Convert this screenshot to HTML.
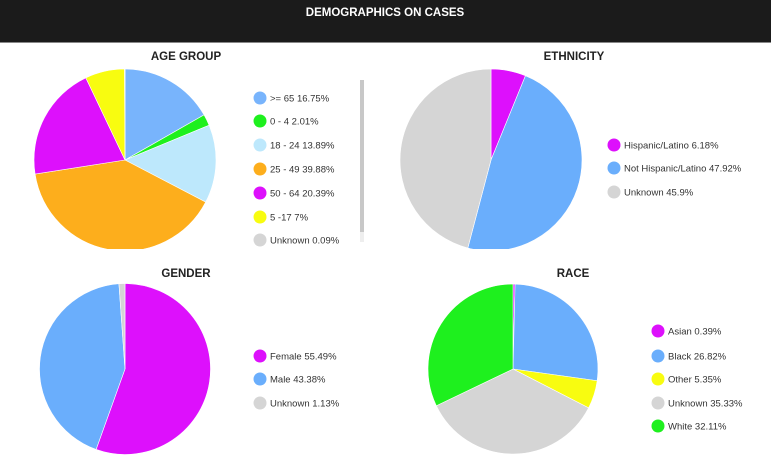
<!DOCTYPE html>
<html><head><meta charset="utf-8"><style>
html,body{margin:0;padding:0;background:#fff;width:771px;height:464px;overflow:hidden;font-family:"Liberation Sans",sans-serif}
</style></head><body>
<svg id="s" width="771" height="464" xmlns="http://www.w3.org/2000/svg" font-family="Liberation Sans, sans-serif">
<rect x="0" y="0" width="771" height="42" fill="#1b1b1b"/>
<rect x="0" y="42" width="771" height="1" fill="#888"/>
<text x="385" y="16" fill="#fff" font-size="11.5" font-weight="bold" text-anchor="middle">DEMOGRAPHICS ON CASES</text>
<text x="186" y="60" fill="#222" font-size="11.5" font-weight="bold" text-anchor="middle">AGE GROUP</text>
<text x="574" y="60" fill="#222" font-size="11.5" font-weight="bold" text-anchor="middle">ETHNICITY</text>
<text x="186" y="277" fill="#222" font-size="11.5" font-weight="bold" text-anchor="middle">GENDER</text>
<text x="573" y="277" fill="#222" font-size="11.5" font-weight="bold" text-anchor="middle">RACE</text>
<defs><clipPath id="c1"><rect x="0" y="44" width="771" height="205"/></clipPath></defs>
<g id="age" clip-path="url(#c1)"></g>
<g id="eth" clip-path="url(#c1)"></g>
<g id="gen"></g>
<g id="race"></g>
<rect x="360" y="80" width="4" height="152" fill="#c8c8c8"/>
<rect x="360" y="232" width="4" height="10" fill="#eee"/>
</svg>
<script>
var NS="http://www.w3.org/2000/svg",s=document.getElementById('s');
function pie(g,cx,cy,r,data){
  var a=0,el=document.getElementById(g);
  data.forEach(function(d){
    var a2=a+d[1]/100*2*Math.PI;
    var x1=cx+r*Math.sin(a),y1=cy-r*Math.cos(a),x2=cx+r*Math.sin(a2),y2=cy-r*Math.cos(a2);
    var p=document.createElementNS(NS,'path');
    p.setAttribute('d','M'+cx+','+cy+'L'+x1+','+y1+'A'+r+','+r+' 0 '+((a2-a)>Math.PI?1:0)+' 1 '+x2+','+y2+'Z');
    p.setAttribute('fill',d[2]);p.setAttribute('stroke','#fff');p.setAttribute('stroke-width','0.6');
    el.appendChild(p);a=a2;
  });
}
function leg(x,ys,data){
  data.forEach(function(d,i){
    var c=document.createElementNS(NS,'circle');
    c.setAttribute('cx',x);c.setAttribute('cy',ys[i]);c.setAttribute('r',6.5);c.setAttribute('fill',d[2]);s.appendChild(c);
    var t=document.createElementNS(NS,'text');
    t.setAttribute('x',x+10);t.setAttribute('y',ys[i]+3.5);t.setAttribute('font-size','9.5');t.setAttribute('fill','#333');
    t.textContent=d[0]+'  '+d[1]+'%';s.appendChild(t);
  });
}
var B='#78b4fc',G='#1ef01e',LB='#bde8fc',O='#fdae1c',M='#dd10fc',Y='#f8fc10',GR='#d5d5d5',B2='#6aaefc';
var age=[['>= 65',16.75,B],['0 - 4',2.01,G],['18 - 24',13.89,LB],['25 - 49',39.88,O],['50 - 64',20.39,M],['5 -17',7,Y],['Unknown',0.09,GR]];
var eth=[['Hispanic/Latino',6.18,M],['Not Hispanic/Latino',47.92,B2],['Unknown',45.9,GR]];
var gen=[['Female',55.49,M],['Male',43.38,B2],['Unknown',1.13,GR]];
var race=[['Asian',0.39,M],['Black',26.82,B2],['Other',5.35,Y],['Unknown',35.33,GR],['White',32.11,G]];
pie('age',125,160,91,age);pie('eth',491,160,91,eth);pie('gen',125,369,85.5,gen);pie('race',513,369,85,race);
leg(260,[98,121,145,169,193,217,240],age);
leg(614,[145,168,192],eth);
leg(260,[356,379,403],gen);
leg(658,[331,356,379,403,426],race);
</script>
</body></html>
